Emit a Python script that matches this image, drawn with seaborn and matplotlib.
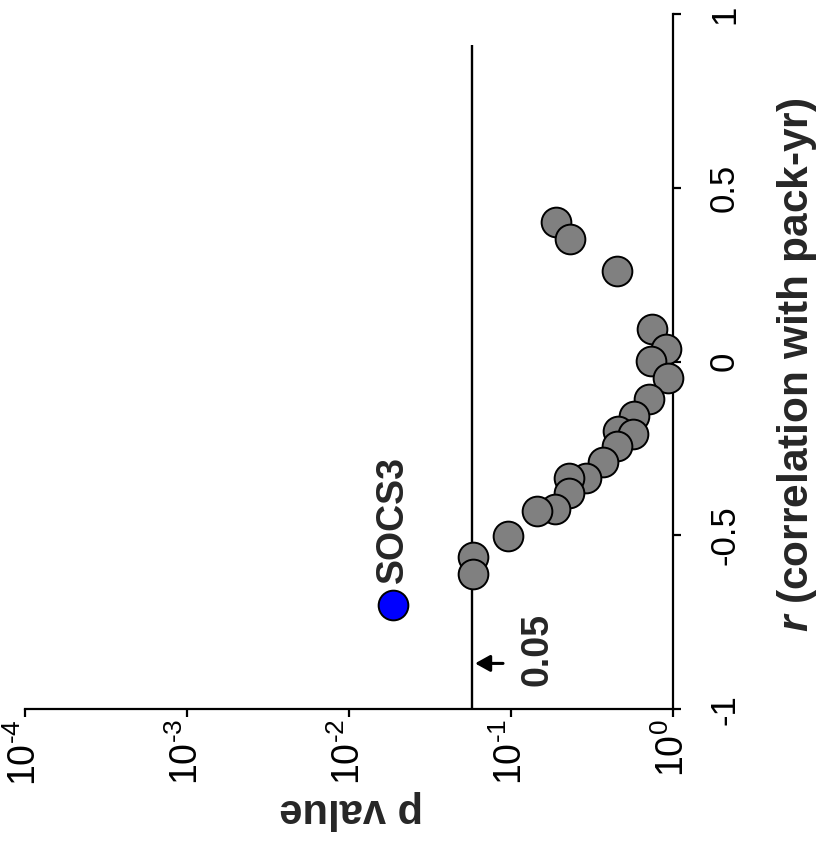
import matplotlib
matplotlib.use("Agg")
import matplotlib.pyplot as plt
import seaborn as sns
import pandas as pd

# ---- data ----
r_values = [0.401, 0.353, 0.261, 0.093, 0.035, 0.001, -0.047, -0.108, -0.155,
            -0.199, -0.209, -0.243, -0.289, -0.336, -0.336, -0.379, -0.424,
            -0.429, -0.502, -0.563, -0.612]
p_values = [0.189, 0.231, 0.451, 0.736, 0.902, 0.728, 0.924, 0.711, 0.573,
            0.458, 0.567, 0.448, 0.370, 0.289, 0.228, 0.228, 0.186,
            0.144, 0.0955, 0.0584, 0.0584]
socs3_r = [-0.701]
socs3_p = [0.0187]
highlight_label = "SOCS3"
threshold_p = 0.057
threshold_label = "0.05"
threshold_r_span = [-1.0, 0.91]

p_ticks = [1e-4, 1e-3, 1e-2, 1e-1, 1.0]
p_tick_labels = [r"$\mathregular{10^{\text{-}4}}$", r"$\mathregular{10^{\text{-}3}}$",
                 r"$\mathregular{10^{\text{-}2}}$", r"$\mathregular{10^{\text{-}1}}$",
                 r"$\mathregular{10^{0}}$"]
r_ticks = [-1.0, -0.5, 0.0, 0.5, 1.0]
r_tick_labels = ["-1", "-0.5", "0", "0.5", "1"]

x_label = "p value"
y_label = r"$\mathit{r}$ (correlation with pack-yr)"

df = pd.DataFrame({"p": p_values, "r": r_values})
df_hi = pd.DataFrame({"p": socs3_p, "r": socs3_r})

# ---- style ----
sns.set_style("white")
plt.rcParams["font.family"] = ["Liberation Sans", "DejaVu Sans"]
plt.rcParams["mathtext.fontset"] = "custom"
plt.rcParams["mathtext.rm"] = "Liberation Sans"
plt.rcParams["mathtext.it"] = "Liberation Sans:italic:bold"
plt.rcParams["mathtext.bf"] = "Liberation Sans:bold"
plt.rcParams["axes.unicode_minus"] = False

W, H = 825, 841
fig = plt.figure(figsize=(W / 100, H / 100), dpi=100)
x0, x1, y0, y1 = 25, 673.3, 14, 709.3
ax = fig.add_axes([x0 / W, 1 - y1 / H, (x1 - x0) / W, (y1 - y0) / H])

ax.set_xscale("log")

# threshold line
ax.plot([threshold_p, threshold_p], threshold_r_span, color="black", lw=1.7,
        zorder=2, solid_capstyle="butt")

sns.scatterplot(data=df, x="p", y="r", color="#808080", edgecolor="black",
                s=458, linewidth=1.4, ax=ax, zorder=3, clip_on=False,
                legend=False)
sns.scatterplot(data=df_hi, x="p", y="r", color="#0000FF", edgecolor="black",
                s=458, linewidth=1.4, ax=ax, zorder=3, clip_on=False,
                legend=False)

ax.set_xlim(1e-4, 1)
ax.set_ylim(-1, 1)

# spines
for s in ["top", "left"]:
    ax.spines[s].set_visible(False)
for s in ["bottom", "right"]:
    ax.spines[s].set_linewidth(1.6)
    ax.spines[s].set_color("black")

ax.yaxis.tick_right()
ax.set_xticks(p_ticks)
ax.set_xticklabels(p_tick_labels, rotation=90, va="top", ha="center",
                   fontsize=27)
ax.xaxis.set_minor_locator(matplotlib.ticker.NullLocator())
ax.set_yticks(r_ticks)
ax.set_yticklabels(r_tick_labels, rotation=90, va="center", ha="left",
                   fontsize=25)
ax.tick_params(axis="x", which="major", direction="out", length=6, width=1.6,
               pad=1, bottom=True, colors="black")
ax.tick_params(axis="y", which="major", direction="out", length=6, width=1.6,
               pad=19, right=True, left=False, colors="black")
ax.set_xlabel("")
ax.set_ylabel("")

# annotations
ax.annotate(highlight_label, xy=(socs3_p[0], socs3_r[0]), xytext=(0, 16),
            textcoords="offset points", rotation=90, ha="center", va="bottom",
            fontsize=27, fontweight="bold")
ax.text(0.145, -0.827, threshold_label, rotation=90, ha="center", va="center",
        fontsize=27, fontweight="bold")
ax.annotate("", xy=(0.0598, -0.868), xytext=(0.089, -0.868),
            arrowprops=dict(arrowstyle="-|>,head_length=0.9,head_width=0.5",
                            color="black", lw=2.2, shrinkA=0, shrinkB=0))

# axis titles
fig.text(797 / W, 1 - 364.5 / H, y_label, rotation=90, ha="center",
         va="center", fontsize=30.5, fontweight="bold")
fig.text(351.5 / W, 1 - 810 / H, x_label, rotation=180, ha="center",
         va="center", fontsize=30, fontweight="bold")

fig.savefig("out.png", dpi=100)
